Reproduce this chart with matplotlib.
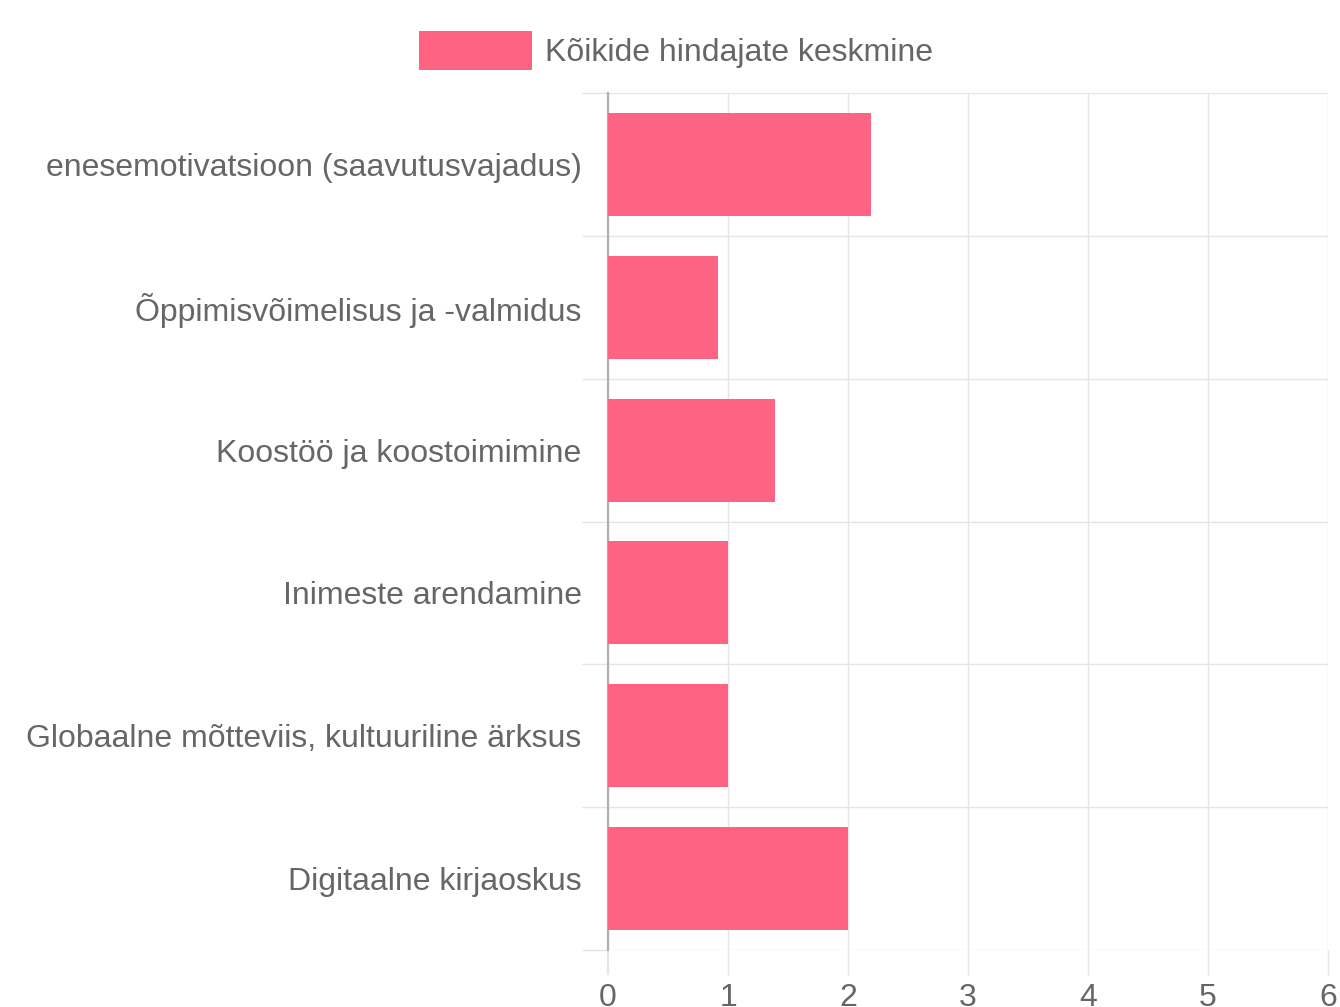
import matplotlib
matplotlib.use("Agg")
import matplotlib.pyplot as plt
import numpy as np

categories = [
    "enesemotivatsioon (saavutusvajadus)",
    "Õppimisvõimelisus ja -valmidus",
    "Koostöö ja koostoimimine",
    "Inimeste arendamine",
    "Globaalne mõtteviis, kultuuriline ärksus",
    "Digitaalne kirjaoskus",
]
values = [2.19, 0.92, 1.39, 1.0, 1.0, 2.0]
series_label = "Kõikide hindajate keskmine"
x_ticks = [0, 1, 2, 3, 4, 5, 6]

bar_color = "#FF6384"
grid_color = "#e5e5e5"
text_color = "#666666"
plt.rcParams['font.family'] = ['Liberation Sans', 'DejaVu Sans']

W, H = 1340, 1007
fig = plt.figure(figsize=(W / 100, H / 100), dpi=100)
ax = fig.add_axes([608 / W, (H - 950) / H, (1328 - 608) / W, (950 - 93) / H])

n = len(categories)
ypos = np.arange(n)
ax.barh(ypos, values, height=0.72, color=bar_color, label=series_label, zorder=3)

ax.set_xlim(0, 6)
ax.set_ylim(n - 0.5, -0.5)

ax.set_xticks(x_ticks)
ax.set_xticklabels([str(t) for t in x_ticks])
ax.set_yticks(ypos)
ax.set_yticklabels(categories)
ax.set_yticks(np.arange(-0.5, n, 1.0), minor=True)

ax.tick_params(axis='y', which='major', length=0, pad=19, labelsize=23, labelcolor=text_color)
ax.tick_params(axis='y', which='minor', length=19, width=1, color=grid_color)
ax.tick_params(axis='x', which='major', length=18, width=1, color=grid_color, pad=6,
               labelsize=23, labelcolor=text_color)

ax.grid(axis='x', which='major', color=grid_color, linewidth=1, zorder=0)
ax.grid(axis='y', which='minor', color=grid_color, linewidth=1, zorder=0)

for s in ['top', 'right', 'bottom']:
    ax.spines[s].set_visible(False)
ax.spines['left'].set_color('#b0b0b0')
ax.spines['left'].set_linewidth(1.6)
ax.xaxis.get_major_ticks()[0].tick1line.set_color('#b0b0b0')
ax.xaxis.get_major_ticks()[0].tick1line.set_markeredgewidth(1.6)

fig.legend(loc='upper center', bbox_to_anchor=(0.5 + 6 / W, 1 - 9 / H), frameon=False,
           fontsize=23, labelcolor=text_color, handlelength=3.53, handleheight=1.5,
           handletextpad=0.41, borderpad=0.2)

fig.savefig("out.png", dpi=100)
